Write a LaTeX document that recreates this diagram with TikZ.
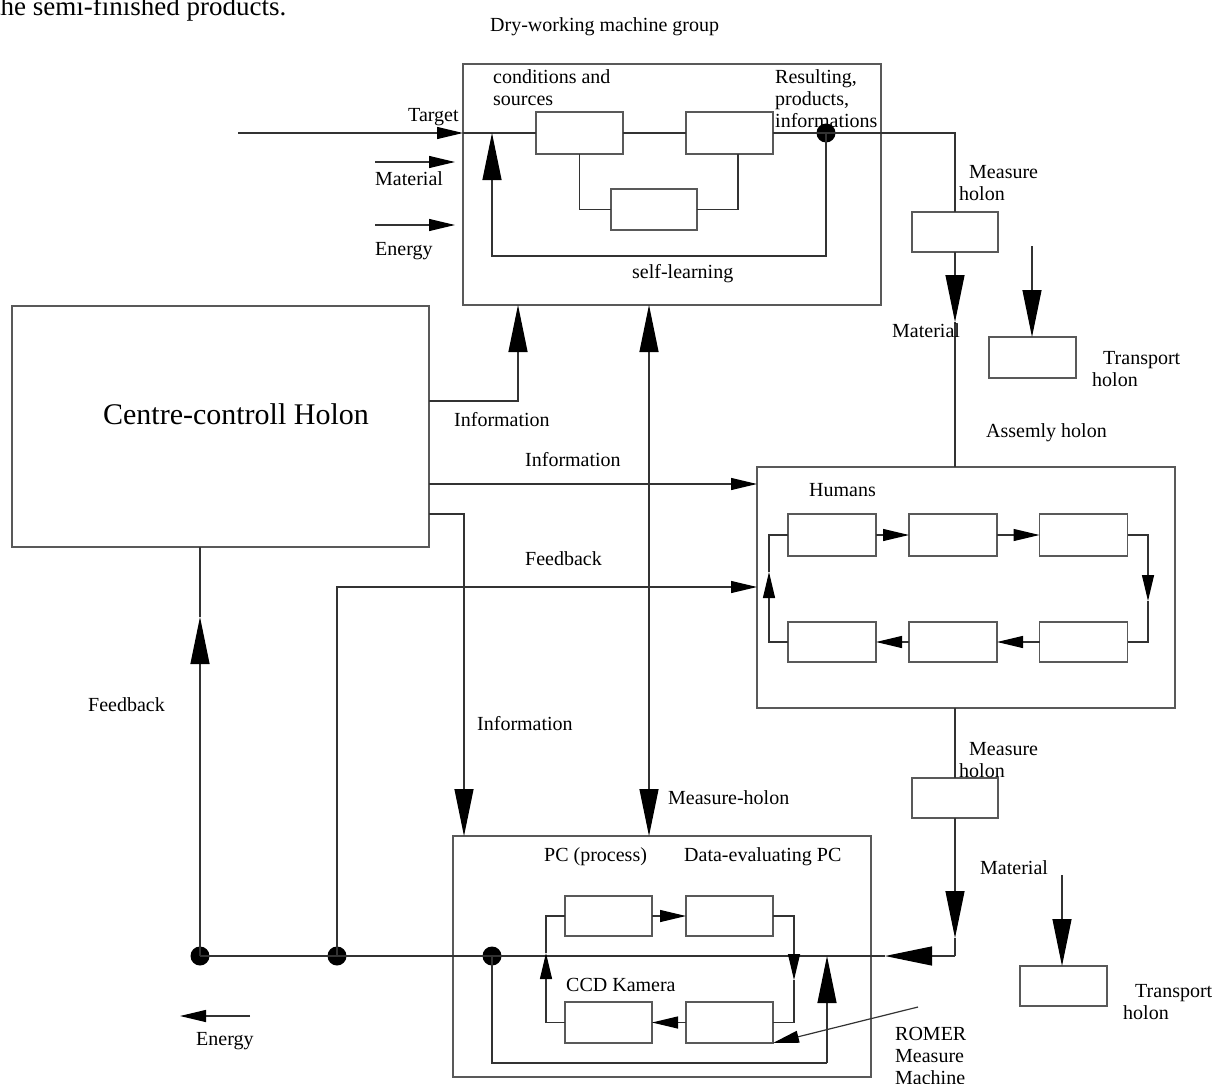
\documentclass[tikz,border=0pt]{standalone}
\usepackage{fontspec}
\setmainfont{Liberation Serif}
\usetikzlibrary{arrows.meta,calc}
\tikzset{
  BigT/.tip={Triangle[length=47pt,width=19pt,color=black,fill=black]},
  SmT/.tip={Triangle[length=26pt,width=12pt,color=black,fill=black]},
}
\begin{document}
\begin{tikzpicture}[x=1pt,y=-1pt,
  box/.style={draw=black!65, line width=1.3pt, inner sep=0pt, outer sep=0pt},
  ln/.style={draw=black!80, line width=1.2pt},
  lab/.style={inner sep=0pt, anchor=base west, font=\fontsize{20}{22}\selectfont},
  mlab/.style={inner sep=0pt, anchor=north west, align=left, font=\fontsize{20}{22}\selectfont},
  dotn/.style={circle, fill=black, inner sep=0pt, minimum size=19pt},
]
\useasboundingbox (0,0) rectangle (1224,1084);
\clip (0,0) rectangle (1224,1084);

% ---- boxes
\node[box,minimum width=418pt,minimum height=241pt] (dry) at (672,184.5) {};
\node[box,minimum width=87pt,minimum height=42pt] (d1) at (579.5,133) {};
\node[box,minimum width=87pt,minimum height=42pt] (d2) at (729.5,133) {};
\node[box,minimum width=86pt,minimum height=41pt] (d3) at (654,209.5) {};
\node[box,minimum width=417pt,minimum height=241pt] (centre) at (220.5,426.5) {};
\node[box,minimum width=86pt,minimum height=40pt] (m1) at (955,232) {};
\node[box,minimum width=87pt,minimum height=41pt] (t1) at (1032.5,357.5) {};
\node[box,minimum width=418pt,minimum height=241pt] (asm) at (966,587.5) {};
\node[box,minimum width=88pt,minimum height=42pt] (a1) at (832,535) {};
\node[box,minimum width=88pt,minimum height=42pt] (a2) at (953,535) {};
\node[box,minimum width=88pt,minimum height=42pt] (a3) at (1083.5,535) {};
\node[box,minimum width=88pt,minimum height=40pt] (a4) at (832,642) {};
\node[box,minimum width=88pt,minimum height=40pt] (a5) at (953,642) {};
\node[box,minimum width=88pt,minimum height=40pt] (a6) at (1083.5,642) {};
\node[box,minimum width=86pt,minimum height=40pt] (m2) at (955,798) {};
\node[box,minimum width=418pt,minimum height=241pt] (pc) at (662,956.5) {};
\node[box,minimum width=87pt,minimum height=40pt] (p1) at (608.5,916) {};
\node[box,minimum width=87pt,minimum height=40pt] (p2) at (729.5,916) {};
\node[box,minimum width=87pt,minimum height=41pt] (p3) at (608.5,1022.5) {};
\node[box,minimum width=87pt,minimum height=41pt] (p4) at (729.5,1022.5) {};
\node[box,minimum width=87pt,minimum height=40pt] (t2) at (1063.5,986) {};

% ---- junction dots
\node[dotn] (dotR) at (826,133) {};
\node[dotn] (dA) at (200,956) {};
\node[dotn] (dB) at (337,956) {};
\node[dotn] (dC) at (492,956) {};

% ---- helper coordinates
\coordinate (tgtS) at (238,133);
\coordinate (slc) at (492,256);
\coordinate (d2c) at (738,0);
\coordinate (i1) at (518,401);
\coordinate (i2) at (0,484);
\coordinate (i3) at (464,514);
\coordinate (i4) at (649,0);
\coordinate (fb) at (0,587);
\coordinate (fbTip) at (200,617);
\coordinate (busR) at (955,956);
\coordinate (busTip) at (885,956);
\coordinate (m1Tip) at (955,322);
\coordinate (m2Tip) at (955,938);
\coordinate (matS) at (375,162);
\coordinate (matE) at (455,162);
\coordinate (enS) at (375,225);
\coordinate (enE) at (455,225);
\coordinate (en2S) at (250,1016);
\coordinate (en2E) at (180,1016);
\coordinate (tr1S) at (1032,246);
\coordinate (tr2S) at (1062,875);
\coordinate (aR) at (1148,601);
\coordinate (aL) at (769,572);
\coordinate (pR) at (794,980);
\coordinate (pL) at (546,953);
\coordinate (pcB) at (827,1063);
\coordinate (romS) at (918,1007);

% ---- dry-working group
\draw[ln,-{SmT}] (tgtS) -- (dry.west |- tgtS);
\draw[ln] (dry.west |- tgtS) -- (d1.west);
\draw[ln] (d1.east) -- (d2.west);
\draw[ln] (d2.east) -- (dotR.center) -| (m1.north);
\draw[ln] (d1.south) |- (d3.west);
\draw[ln] (d3.east) -| (d2.south -| d2c);
\draw[ln,-{BigT}] (dotR.center) |- (slc) -- (slc |- tgtS);
\draw[ln,-{SmT}] (matS) -- (matE);
\draw[ln,-{SmT}] (enS) -- (enE);

% ---- measure / transport (top)
\draw[ln,-{BigT}] (m1.south) -- (m1Tip);
\draw[ln] (m1Tip) -- (asm.north -| m1Tip);
\draw[ln,-{BigT}] (tr1S) -- (t1.north -| tr1S);

% ---- centre control connections
\draw[ln,-{BigT}] (centre.east |- i1) -| (dry.south -| i1);
\draw[ln,{BigT}-{BigT}] (dry.south -| i4) -- (pc.north -| i4);
\draw[ln,-{SmT}] (centre.east |- i2) -- (asm.west |- i2);
\draw[ln,-{BigT}] (centre.east |- i3) -| (pc.north -| i3);
\draw[ln,-{SmT}] (dB.center) |- (asm.west |- fb);
\draw[ln,-{BigT}] (dA.center) -- (fbTip);
\draw[ln] (fbTip) -- (centre.south -| dA);

% ---- bus line
\draw[ln] (dA.center) -- (busTip);
\draw[ln,-{BigT}] (busR) -- (busTip);
\draw[ln] (asm.south -| m2) -- (m2.north);
\draw[ln,-{BigT}] (m2.south) -- (m2Tip);
\draw[ln] (m2Tip) -- (busR);
\draw[ln,-{BigT}] (tr2S) -- (t2.north -| tr2S);
\draw[ln,-{SmT}] (en2S) -- (en2E);

% ---- assembly internal loop
\draw[ln,-{SmT}] (a1.east) -- (a2.west);
\draw[ln,-{SmT}] (a2.east) -- (a3.west);
\draw[ln,-{SmT}] (a3.east) -| (aR);
\draw[ln] (aR) |- (a6.east);
\draw[ln,-{SmT}] (a6.west) -- (a5.east);
\draw[ln,-{SmT}] (a5.west) -- (a4.east);
\draw[ln,-{SmT}] (a4.west) -| (aL);
\draw[ln] (aL) |- (a1.west);

% ---- PC internal loop
\draw[ln,-{SmT}] (p1.east) -- (p2.west);
\draw[ln,-{SmT}] (p2.east) -| (pR);
\draw[ln] (pR) |- (p4.east);
\draw[ln,-{SmT}] (p4.west) -- (p3.east);
\draw[ln,-{SmT}] (p3.west) -| (pL);
\draw[ln] (pL) |- (p1.west);
\draw[ln] (dC.center) |- (pcB);
\draw[ln,-{BigT}] (pcB) -- (pcB |- dC);
\draw[ln,-{SmT}] (romS) -- (p4.south east);

% ---- labels
\node[inner sep=0pt, anchor=base west, font=\fontsize{27}{30}\selectfont] (toptxt) at (-7,15) {the semi-finished products.};
\node[lab] (lDry) at (490,31) {Dry-working machine group};
\node[mlab] (lCond) at (493,69) {conditions and\\sources};
\node[mlab] (lRes) at (775,69) {Resulting,\\products,\\informations};
\node[lab] (lTarget) at (408,121) {Target};
\node[lab] (lMat1) at (375,185) {Material};
\node[lab] (lEn1) at (375,255) {Energy};
\node[lab] (lSelf) at (632,278) {self-learning};
\node[inner sep=0pt, anchor=base, font=\fontsize{30}{34}\selectfont] (lCentre) at (236,424) {Centre-controll Holon};
\node[lab] (lInf1) at (454,426) {Information};
\node[lab] (lInf2) at (525,466) {Information};
\node[lab] (lFb1) at (525,565) {Feedback};
\node[lab] (lFb2) at (88,711) {Feedback};
\node[lab] (lInf3) at (477,730) {Information};
\node[lab] (lMh) at (668,804) {Measure-holon};
\node[lab] (lPCp) at (544,861) {PC (process)};
\node[lab] (lDat) at (684,861) {Data-evaluating PC};
\node[lab] (lCCD) at (566,991) {CCD Kamera};
\node[lab] (lEn2) at (196,1045) {Energy};
\node[mlab] (lMeas1) at (959,165) {\hspace*{10pt}Measure\\holon};
\node[lab] (lMat2) at (892,337) {Material};
\node[mlab] (lTr1) at (1092,351) {\hspace*{11pt}Transport\\holon};
\node[lab] (lAsm) at (986,437) {Assemly holon};
\node[lab] (lHum) at (809,496) {Humans};
\node[mlab] (lMeas2) at (959,742) {\hspace*{10pt}Measure\\holon};
\node[lab] (lMat3) at (980,874) {Material};
\node[mlab] (lTr2) at (1123,984) {\hspace*{12pt}Transport\\holon};
\node[mlab] (lRom) at (895,1027) {ROMER\\Measure\\Machine};
\end{tikzpicture}
\end{document}
